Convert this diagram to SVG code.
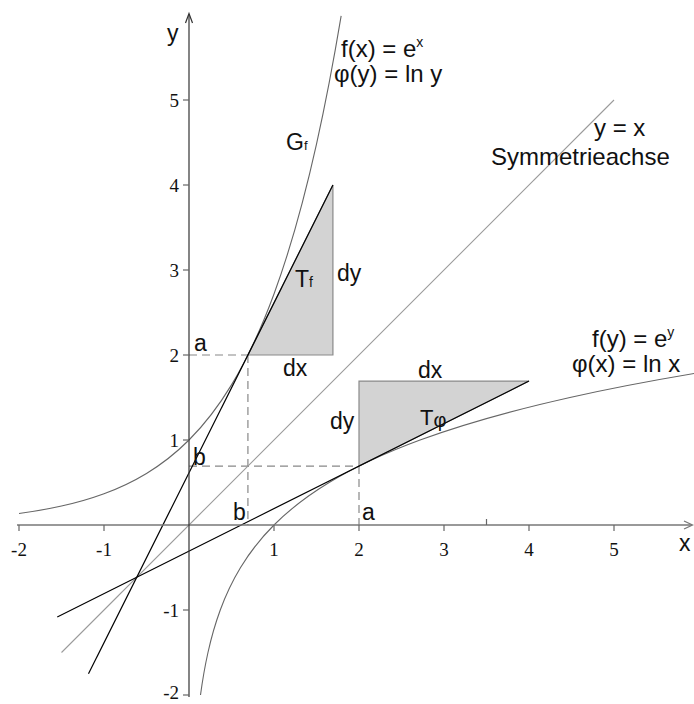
<svg xmlns="http://www.w3.org/2000/svg" width="694" height="704" viewBox="0 0 694 704">
<style>
.curve{fill:none;stroke:#666;stroke-width:1.1}
.sym{fill:none;stroke:#9a9a9a;stroke-width:1.1}
.tan{fill:none;stroke:#000;stroke-width:1.2}
.dash{fill:none;stroke:#888;stroke-width:1.2;stroke-dasharray:8 5}
.tri{fill:#d3d3d3;stroke:#8a8a8a;stroke-width:1.2}
.xaxis{fill:none;stroke:#777;stroke-width:1.3}
.yaxis{fill:none;stroke:#333;stroke-width:1.2}
.tick{stroke:#666;stroke-width:1.2}
.num{font-family:"Liberation Serif","DejaVu Serif",serif;font-size:19px;fill:#111}
.lbl{font-family:"Liberation Sans",Arial,sans-serif;font-size:23px;fill:#111}
</style>
<defs>
<path id="expcurve" d="M19,513.5 C33.17,511.58 47.33,509.19 61.5,506.03 C75.67,502.87 89.83,498.94 104,493.73 C118.17,488.52 132.33,482.03 146.5,473.44 C160.67,464.85 174.83,454.17 189,440 C203.17,425.83 217.33,408.22 231.5,384.86 C245.67,361.5 259.83,332.46 274,293.95 C288.17,255.44 302.33,207.55 316.5,144.06 C324.72,107.24 332.93,65.11 341.15,15.9"/>
</defs>
<rect width="694" height="704" fill="#fff"/>

<g id="triangles">
<polygon id="triangle-Tf" class="tri" points="247.92,355 332.92,355 332.92,185"/>
<polygon id="triangle-Tphi" class="tri" points="359,466.08 359,381.08 529,381.08"/>
</g>

<g id="connectors">
<g id="dashed-helpers">
<line class="dash" x1="189" y1="355" x2="247.92" y2="355"/>
<line class="dash" x1="247.92" y1="355" x2="247.92" y2="525"/>
<line class="dash" x1="189" y1="466.08" x2="359" y2="466.08"/>
<line class="dash" x1="359" y1="466.08" x2="359" y2="525"/>
</g>
<line id="symmetry-axis" class="sym" x1="61.5" y1="652.5" x2="614" y2="100"/>
<use id="graph-exp" href="#expcurve" class="curve"/>
<use id="graph-ln" href="#expcurve" class="curve" transform="matrix(0,-1,-1,0,714,714)"/>
<line id="tangent-f" class="tan" x1="88.5" y1="673.75" x2="332.92" y2="185"/>
<line id="tangent-phi" class="tan" x1="57.25" y1="616.96" x2="529" y2="381.08"/>
</g>

<g id="axes">
<line class="xaxis" x1="17" y1="525" x2="692" y2="525"/>
<polyline class="xaxis" points="684,521 692.5,525 684,529"/>
<line class="yaxis" x1="189" y1="697" x2="189" y2="14"/>
<polyline class="yaxis" points="185.5,23 189,13.5 192.5,23"/>
<g id="x-ticks">
<line class="tick" x1="19" y1="525" x2="19" y2="531"/>
<line class="tick" x1="104" y1="525" x2="104" y2="531"/>
<line class="tick" x1="274" y1="525" x2="274" y2="531"/>
<line class="tick" x1="359" y1="525" x2="359" y2="531"/>
<line class="tick" x1="444" y1="525" x2="444" y2="531"/>
<line class="tick" x1="529" y1="525" x2="529" y2="531"/>
<line class="tick" x1="614" y1="525" x2="614" y2="531"/>
<line class="tick" x1="486.5" y1="519" x2="486.5" y2="525"/>
</g>
<g id="y-ticks">
<line class="tick" x1="183" y1="100" x2="189" y2="100"/>
<line class="tick" x1="183" y1="185" x2="189" y2="185"/>
<line class="tick" x1="183" y1="270" x2="189" y2="270"/>
<line class="tick" x1="183" y1="355" x2="189" y2="355"/>
<line class="tick" x1="183" y1="440" x2="189" y2="440"/>
<line class="tick" x1="183" y1="610" x2="189" y2="610"/>
<line class="tick" x1="183" y1="695" x2="189" y2="695"/>
</g>
<g id="x-tick-labels" class="num" text-anchor="middle">
<text x="19" y="556">-2</text>
<text x="104" y="556">-1</text>
<text x="274" y="556">1</text>
<text x="359" y="556">2</text>
<text x="444" y="556">3</text>
<text x="529" y="556">4</text>
<text x="614" y="556">5</text>
</g>
<g id="y-tick-labels" class="num" text-anchor="end">
<text x="179" y="107">5</text>
<text x="179" y="192">4</text>
<text x="179" y="277">3</text>
<text x="179" y="362">2</text>
<text x="179" y="447">1</text>
<text x="179" y="617">-1</text>
<text x="179" y="699">-2</text>
</g>
<text class="lbl" x="167" y="41" font-size="22">y</text>
<text class="lbl" x="679" y="551" font-size="22">x</text>
</g>

<g id="labels" class="lbl">
<g id="label-f-exp">
<text x="341" y="57" font-size="24">f(x) = e<tspan font-size="14" dy="-10">x</tspan></text>
<text x="334" y="82" font-size="24">φ(y) = ln y</text>
</g>
<g id="label-Gf"><text x="286" y="150">G<tspan font-size="13">f</tspan></text></g>
<g id="label-symmetry">
<text x="594" y="136" font-size="24">y = x</text>
<text x="491" y="165" font-size="24">Symmetrieachse</text>
</g>
<g id="label-f-ln">
<text x="592" y="347" font-size="24">f(y) = e<tspan font-size="14" dy="-10">y</tspan></text>
<text x="572" y="372" font-size="24">φ(x) = ln x</text>
</g>
<g id="label-Tf"><text x="295" y="287">T<tspan font-size="14">f</tspan></text></g>
<text x="337" y="281">dy</text>
<text x="283" y="376">dx</text>
<text x="194" y="351">a</text>
<g id="label-Tphi"><text x="420" y="425" font-size="22">T<tspan font-size="20" dy="2">φ</tspan></text></g>
<text x="418" y="378">dx</text>
<text x="330" y="429">dy</text>
<text x="193" y="465">b</text>
<text x="233" y="520">b</text>
<text x="362" y="520">a</text>
</g>
</svg>
